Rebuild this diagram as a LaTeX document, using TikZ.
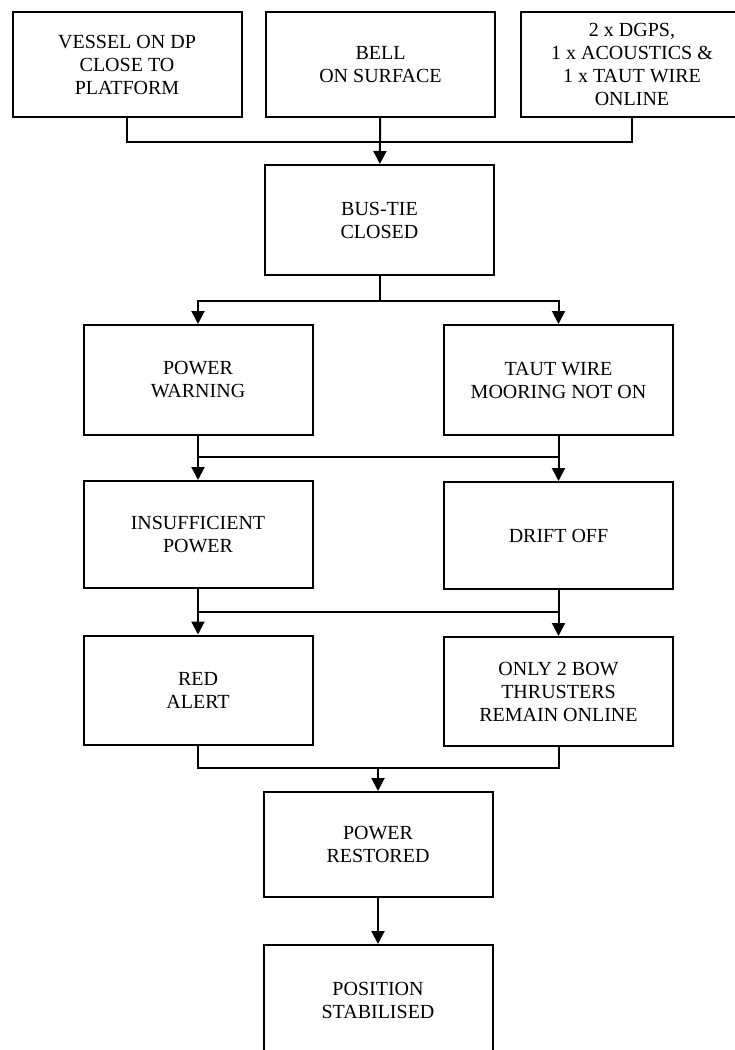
\documentclass[tikz,border=0pt]{standalone}
\usepackage{fontspec}
\setmainfont{Liberation Serif}
\usetikzlibrary{arrows.meta}

\begin{document}
\begin{tikzpicture}[x=0.5pt,y=-0.5pt,line width=1pt,
  stepbox/.style={draw,rectangle,align=center,inner sep=0pt,
    minimum width=114.5pt,minimum height=55pt,
    font=\fontsize{10}{11.5}\selectfont},
  toprow/.style={stepbox,minimum height=52.5pt},
  arr/.style={-{Triangle[width=6.5pt,length=6.5pt]}}]
\useasboundingbox (0,0) rectangle (734,1050);
\node[toprow] (vessel) at (127,64.5) {VESSEL ON DP\\CLOSE TO\\PLATFORM};
\node[toprow] (bell)   at (380.5,64.5) {BELL\\ON SURFACE};
\node[toprow,minimum width=111pt] (dgps) at (632,64.5) {2 x DGPS,\\1 x ACOUSTICS \&\\1 x TAUT WIRE\\ONLINE};
\node[stepbox] (bustie) at (379.5,220) {BUS-TIE\\CLOSED};
\node[stepbox] (pwarn)  at (198,380) {POWER\\WARNING};
\node[stepbox] (taut)   at (558.5,380) {TAUT WIRE\\MOORING NOT ON};
\node[stepbox,minimum height=53.5pt] (insuf) at (198,534.5) {INSUFFICIENT\\POWER};
\node[stepbox,minimum height=53.5pt] (drift) at (558.5,535.5) {DRIFT OFF};
\node[stepbox,minimum height=54.5pt] (red)   at (198,690) {RED\\ALERT};
\node[stepbox,minimum height=54.5pt] (bow)   at (558.5,691.5) {ONLY 2 BOW\\THRUSTERS\\REMAIN ONLINE};
\node[stepbox,minimum height=52.5pt] (restored) at (378,844.5) {POWER\\RESTORED};
\node[stepbox] (position) at (378,1000) {POSITION\\STABILISED};
\coordinate (jtop) at (380.5,142);
\coordinate (jbus) at (379.5,301);
\coordinate (jmid) at (379,457);
\coordinate (jlow) at (379,612);
\coordinate (jend) at (378,768);
\draw (vessel.south) |- (jtop) -| (dgps.south);
\draw[arr] (bell) -- (bustie);
\draw (bustie.south) -- (jbus);
\draw[arr] (jbus) -| (pwarn.north);
\draw[arr] (jbus) -| (taut.north);
\draw[arr] (pwarn) -- (insuf);
\draw[arr] (taut) -- (drift);
\draw (pwarn.south |- jmid) -- (taut.south |- jmid);
\draw[arr] (insuf) -- (red);
\draw[arr] (drift) -- (bow);
\draw (insuf.south |- jlow) -- (drift.south |- jlow);
\draw (red.south) |- (jend) -| (bow.south);
\draw[arr] (jend) -- (restored.north);
\draw[arr] (restored) -- (position);
\end{tikzpicture}
\end{document}
